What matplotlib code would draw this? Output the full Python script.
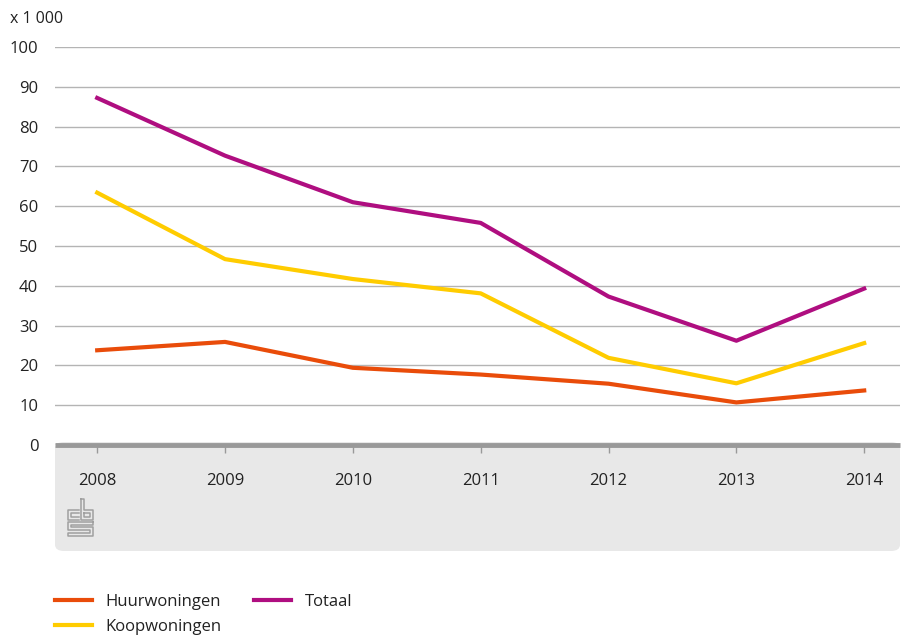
import matplotlib
matplotlib.use("Agg")
import matplotlib.pyplot as plt
from matplotlib.patches import FancyBboxPatch
from matplotlib.lines import Line2D

years = [2008, 2009, 2010, 2011, 2012, 2013, 2014]
huur = [23.8, 25.9, 19.4, 17.7, 15.4, 10.7, 13.7]
koop = [63.4, 46.7, 41.7, 38.1, 21.9, 15.5, 25.6]
totaal = [87.2, 72.7, 61.0, 55.8, 37.3, 26.2, 39.3]

c_huur = '#e94c0a'
c_koop = '#ffcc00'
c_tot = '#af0e80'

plt.rcParams['font.family'] = ['Open Sans', 'DejaVu Sans']

W, H = 901, 637
fig = plt.figure(figsize=(W / 100, H / 100), dpi=100)

# grey band below the plot
band = FancyBboxPatch((55 / W, 1 - 551 / H), (900 - 55) / W, (551 - 442) / H,
                      boxstyle="round,pad=0,rounding_size=0.01",
                      transform=fig.transFigure, facecolor='#e8e8e8',
                      edgecolor='none', zorder=-5)
fig.patches.append(band)

ax = fig.add_axes([55 / W, 1 - 445 / H, (900 - 55) / W, (445 - 47) / H])
ax.set_facecolor('none')
ax.plot(years, huur, color=c_huur, lw=3, solid_joinstyle='round')
ax.plot(years, koop, color=c_koop, lw=3, solid_joinstyle='round')
ax.plot(years, totaal, color=c_tot, lw=3, solid_joinstyle='round')

ax.set_xlim(2008 - 0.33, 2014 + 0.28)
ax.set_ylim(0, 100)
ax.set_yticks(range(0, 101, 10))
ax.set_xticks(years)
ax.grid(axis='y', color='#b4b4b4', lw=1)
ax.set_axisbelow(True)
for s in ['top', 'right', 'left']:
    ax.spines[s].set_visible(False)
ax.spines['bottom'].set_color('#999999')
ax.spines['bottom'].set_linewidth(3.5)
ax.spines['bottom'].set_capstyle('butt')
ax.tick_params(axis='y', length=0, labelsize=12, pad=12, colors='#222222')
ax.tick_params(axis='x', length=6, width=1, color='#999999', direction='out',
               labelsize=12, pad=14, labelcolor='#222222')

fig.text(10 / W, 1 - 19 / H, 'x 1 000', fontsize=11.5, va='center', ha='left',
         color='#222222')

# cbs logo, drawn in pixel units
lx = fig.add_axes([64 / W, 1 - 540 / H, 32 / W, 44 / H])
lx.set_xlim(64, 96)
lx.set_ylim(540, 496)
lx.axis('off')
lk = dict(color='#a0a0a0', lw=1.1)
# c
lx.plot([79, 68, 68, 79], [510, 510, 520, 520], **lk)
lx.plot([79, 71, 71, 79], [513, 513, 517, 517], **lk)
# b
lx.plot([81, 81, 93, 93, 84, 84, 81], [499, 520, 520, 510, 510, 499, 499], **lk)
lx.plot([84, 84, 90, 90, 84], [513, 517, 517, 513, 513], **lk)
# S
lx.plot([93, 68, 68, 90, 90, 68, 68, 93, 93, 71, 71, 93, 93],
        [522, 522, 530, 530, 533, 533, 536, 536, 527, 527, 525, 525, 522], **lk)

handles = [Line2D([], [], color=c_huur, lw=3),
           Line2D([], [], color=c_koop, lw=3),
           Line2D([], [], color=c_tot, lw=3)]
fig.legend(handles, ['Huurwoningen', 'Koopwoningen', 'Totaal'], ncol=2,
           loc='upper left', bbox_to_anchor=(55 / W, 1 - 594 / H),
           borderaxespad=0, borderpad=0,
           frameon=False, fontsize=12, handlelength=2.2, handletextpad=0.8,
           columnspacing=2.0, labelspacing=0.55, labelcolor='#222222')

fig.savefig('out.png', dpi=100)
